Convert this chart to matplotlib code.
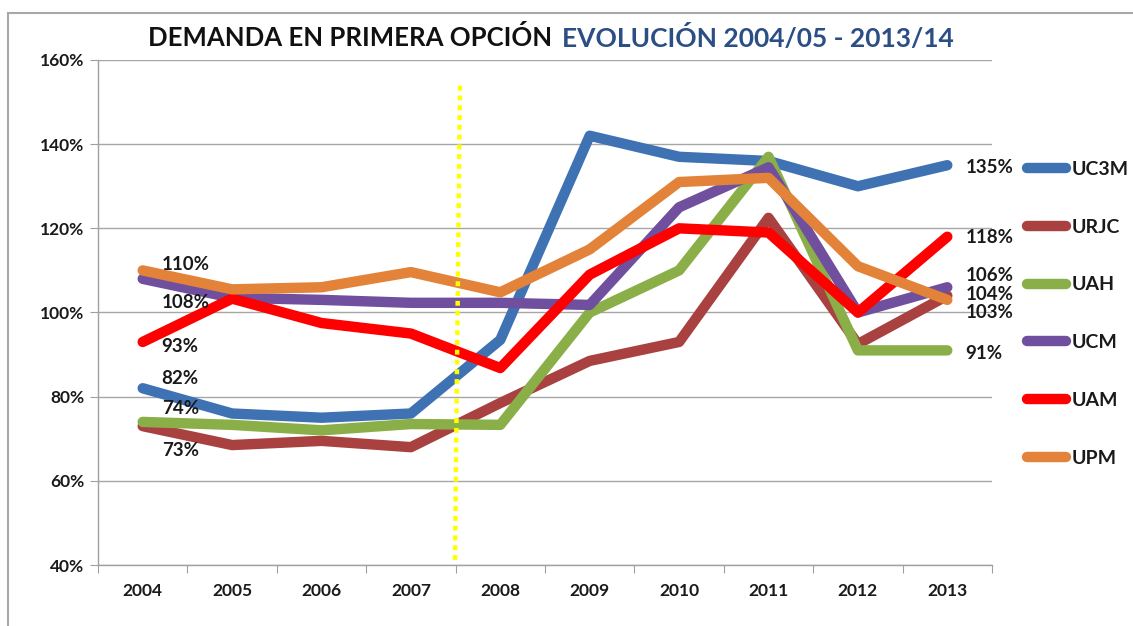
import matplotlib
matplotlib.use("Agg")
import matplotlib.pyplot as plt
from matplotlib.lines import Line2D
import numpy as np

years = ["2004", "2005", "2006", "2007", "2008", "2009", "2010", "2011", "2012", "2013"]
series_names = ["UC3M", "URJC", "UAH", "UCM", "UAM", "UPM"]
uc3m = [82, 76, 75, 76, 93.5, 142, 137, 136, 130, 135]
urjc = [73, 68.5, 69.5, 68, 78.5, 88.5, 93, 122.5, 92.5, 104]
uah = [74, 73.3, 72, 73.5, 73.3, 100, 110, 137, 91, 91]
ucm = [108, 103.5, 103, 102.3, 102.3, 101.8, 125, 134.5, 100, 106]
uam = [93, 103.3, 97.5, 95, 86.8, 109, 120, 119, 100, 118]
upm = [110, 105.5, 106, 109.6, 104.8, 115, 131, 132, 111, 103]
values = [uc3m, urjc, uah, ucm, uam, upm]
colors = ["#3F72B3", "#A8413F", "#8BAF48", "#6F4F9E", "#FF0000", "#E3833A"]

start_labels = {"UPM": "110%", "UCM": "108%", "UAM": "93%", "UC3M": "82%", "UAH": "74%", "URJC": "73%"}
start_offsets = {"UPM": -6, "UCM": 24, "UAM": 5, "UC3M": -10, "UAH": -13, "URJC": 24}
end_labels = {"UC3M": "135%", "UAM": "118%", "UCM": "106%", "URJC": "104%", "UPM": "103%", "UAH": "91%"}
end_offsets = {"UC3M": 2, "UAM": 1, "UCM": -12, "URJC": -1, "UPM": 13, "UAH": 3}

plt.rcParams['font.family'] = ['Lato', 'DejaVu Sans']

fig = plt.figure(figsize=(11.33, 6.26), dpi=100)
ax = fig.add_axes([98/1133, 1-565/626, (992-98)/1133, (565-60)/626])

x = np.arange(len(years))
for name, vals, col in zip(series_names, values, colors):
    ax.plot(x, vals, color=col, lw=7.5, solid_capstyle='round', solid_joinstyle='round',
            label=name, zorder=3)

# yellow dotted separator
ax.plot([3.493, 3.549], [41.2, 154.5], color="#FFFF00", lw=3.2, ls=(0, (1.1, 1.1)), zorder=4)

# data labels
for name, vals in zip(series_names, values):
    ax.annotate(start_labels[name], xy=(0, vals[0]), xytext=(19, -start_offsets[name]),
                textcoords='offset pixels', ha='left', va='center', fontsize=13.5,
                fontweight='bold', color='#1a1a1a', zorder=5)
    ax.annotate(end_labels[name], xy=(9, vals[-1]), xytext=(18, -end_offsets[name]),
                textcoords='offset pixels', ha='left', va='center', fontsize=13.5,
                fontweight='bold', color='#1a1a1a', annotation_clip=False, zorder=5)

ax.set_xlim(-0.5, 9.5)
ax.set_ylim(40, 160)
ax.set_yticks(np.arange(40, 161, 20))
ax.set_yticklabels([f"{v}%" for v in range(40, 161, 20)], fontsize=12.5, fontweight='bold', color='#1a1a1a')
ax.yaxis.grid(True, color="#A6A6A6", lw=1.0)
ax.set_axisbelow(True)

ax.set_xticks(np.arange(-0.5, 10, 1))
ax.set_xticklabels([])
ax.set_xticks(x, minor=True)
ax.set_xticklabels(years, minor=True, fontsize=12.5, fontweight='bold', color='#1a1a1a')
ax.tick_params(axis='x', which='major', length=6, color='#A0A0A0', direction='out')
ax.tick_params(axis='x', which='minor', length=0, pad=13)
ax.tick_params(axis='y', length=6, color='#A0A0A0', pad=4)

for s in ['top', 'right']:
    ax.spines[s].set_visible(False)
for s in ['left', 'bottom']:
    ax.spines[s].set_color('#A0A0A0')
    ax.spines[s].set_linewidth(1.0)

# legend
handles = [Line2D([0], [0], color=c, lw=7.5, solid_capstyle='round') for c in colors]
leg = fig.legend(handles, series_names, loc='upper left', bbox_to_anchor=(1019/1133, 1-153/626),
                 frameon=False, labelspacing=2.1, handlelength=2.0, handletextpad=0.3,
                 borderaxespad=0.0, prop={'size': 14, 'weight': 'bold'})
for t in leg.get_texts():
    t.set_color('#1a1a1a')

# title
fig.text(148/1133, 1-38/626, "DEMANDA EN PRIMERA OPCIÓN", fontsize=18.5, fontweight='bold',
         color='#111111', ha='left', va='center')
fig.text(562/1133, 1-38/626, "EVOLUCIÓN 2004/05 - 2013/14", fontsize=19, fontweight='bold',
         color='#2B4F85', ha='left', va='center')

# outer border (top and left)
fig.add_artist(Line2D([8/1133, 1], [1-13/626, 1-13/626], color='#A8A8A8', lw=1.5))
fig.add_artist(Line2D([8/1133, 8/1133], [0, 1-13/626], color='#A8A8A8', lw=1.5))

fig.savefig("out.png", dpi=100, facecolor='white')
